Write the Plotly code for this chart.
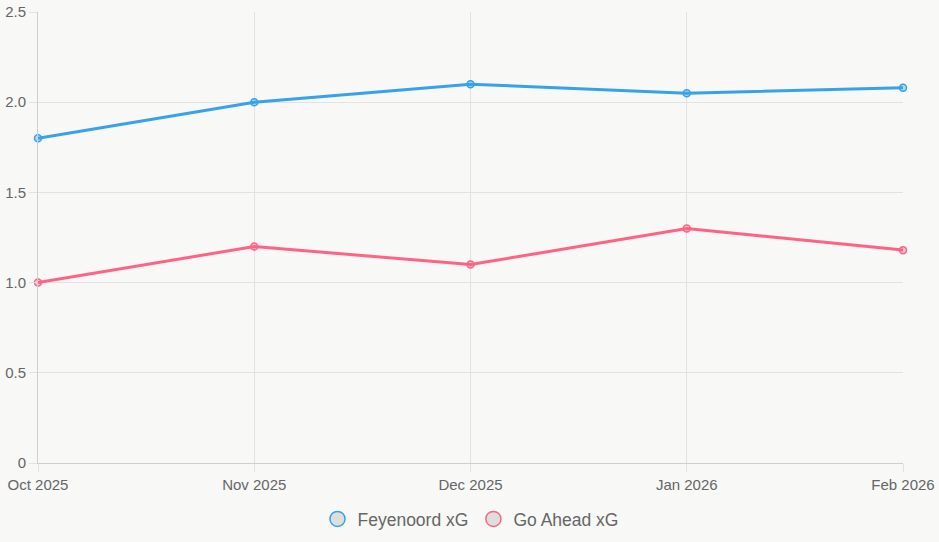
import plotly.graph_objects as go

months = ["Oct 2025", "Nov 2025", "Dec 2025", "Jan 2026", "Feb 2026"]
feyenoord_xg = [1.8, 2.0, 2.1, 2.05, 2.08]
go_ahead_xg = [1.0, 1.2, 1.1, 1.3, 1.18]
y_ticks = [0, 0.5, 1.0, 1.5, 2.0, 2.5]
y_tick_labels = ["0", "0.5", "1.0", "1.5", "2.0", "2.5"]

blue = "#36a2eb"
pink = "#ff6384"
font_family = "Liberation Sans, Arial, Helvetica, sans-serif"

fig = go.Figure()
for name, vals, col, fill in [
    ("Feyenoord xG", feyenoord_xg, blue, "rgba(54,162,235,0.35)"),
    ("Go Ahead xG", go_ahead_xg, pink, "rgba(255,99,132,0.35)"),
]:
    fig.add_trace(go.Scatter(
        x=months, y=vals, mode="lines+markers", name=name, showlegend=False,
        line=dict(color=col, width=3),
        marker=dict(size=7, color=fill, line=dict(color=col, width=1.5)),
        hoverinfo="x+y+name", cliponaxis=False,
    ))
    fig.add_trace(go.Scatter(
        x=[None], y=[None], mode="markers", name=name, showlegend=True,
        marker=dict(size=15, color="rgba(0,0,0,0.1)", line=dict(color=col, width=1.5)),
    ))

fig.update_layout(
    width=939, height=542,
    margin=dict(l=38, r=36, t=12, b=79, autoexpand=False),
    paper_bgcolor="#f8f8f6", plot_bgcolor="#f8f8f6",
    font=dict(family=font_family, color="#666666", size=15),
    legend=dict(orientation="h", x=0.5, xanchor="center",
                yref="container", y=(542 - 519) / 542, yanchor="middle",
                font=dict(size=17.5, color="#666666"), itemwidth=30, tracegroupgap=0),
    xaxis=dict(
        type="category", range=[0, 4], showgrid=True, gridcolor="#e2e2e2", gridwidth=1,
        showline=True, linecolor="#cfcfcf", linewidth=1, automargin=False,
        ticks="outside", ticklen=8, tickcolor="#e2e2e2",
        tickfont=dict(size=15, color="#666666"), zeroline=False,
    ),
    yaxis=dict(
        range=[0, 2.5], tickvals=y_ticks, ticktext=y_tick_labels,
        showgrid=True, gridcolor="#e2e2e2", gridwidth=1,
        showline=True, linecolor="#cfcfcf", linewidth=1, automargin=False,
        ticks="outside", ticklen=8, tickcolor="#e2e2e2",
        tickfont=dict(size=15, color="#666666"), zeroline=False,
    ),
)

fig.write_html("out.html")
